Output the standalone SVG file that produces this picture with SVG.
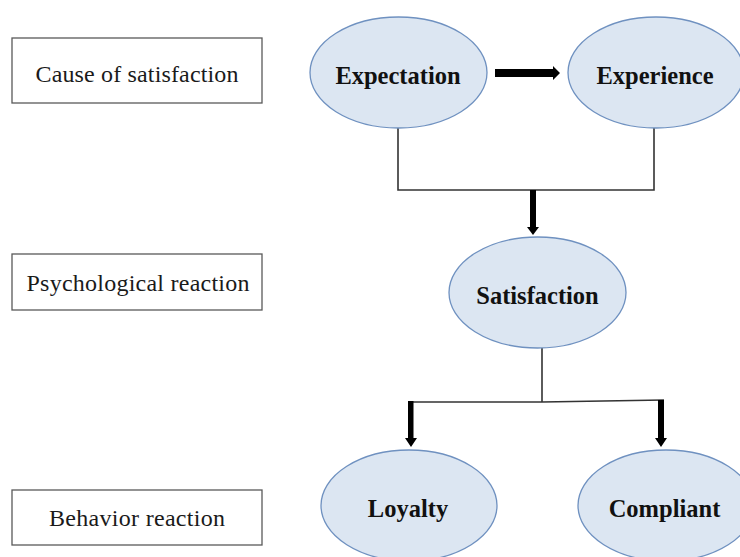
<svg xmlns="http://www.w3.org/2000/svg" width="740" height="557" viewBox="0 0 740 557">
  <style>
    .label-box { fill: #ffffff; stroke: #595959; stroke-width: 1.3; }
    .label-text { font-family: "Liberation Serif", "Times New Roman", serif; font-size: 24px; fill: #1a1a1a; text-anchor: middle; }
    .node-shape { fill: #dce6f2; stroke: #6f91c0; stroke-width: 1.3; }
    .node-text { font-family: "Liberation Serif", "Times New Roman", serif; font-size: 24.5px; font-weight: bold; fill: #111111; text-anchor: middle; }
    .thin { fill: none; stroke: #333333; stroke-width: 1.6; }
    .thick { fill: #000000; stroke: none; }
  </style>

  <rect width="740" height="557" fill="#ffffff"/>

  <!-- stage labels -->
  <g id="label-cause">
    <rect class="label-box" x="12" y="38" width="250" height="65"/>
    <text class="label-text" x="137" y="82" textLength="203" lengthAdjust="spacing">Cause of satisfaction</text>
  </g>
  <g id="label-psychological">
    <rect class="label-box" x="12" y="254" width="250" height="56"/>
    <text class="label-text" x="138" y="291" textLength="223" lengthAdjust="spacing">Psychological reaction</text>
  </g>
  <g id="label-behavior">
    <rect class="label-box" x="12" y="490" width="250" height="55"/>
    <text class="label-text" x="137" y="526" textLength="176" lengthAdjust="spacing">Behavior reaction</text>
  </g>

  <!-- connectors -->
  <g id="connectors">
    <!-- expectation to experience -->
    <polygon class="thick" points="495,69 553,69 553,66 560,73 553,80 553,77 495,77"/>
    <!-- merge of expectation and experience into satisfaction -->
    <polyline class="thin" points="398,128 398,190 654,190 654,128"/>
    <polygon class="thick" points="530,190 536,190 536,227 539,227 533,235 527,227 530,227"/>
    <!-- split of satisfaction into loyalty and compliant -->
    <line class="thin" x1="542" y1="348" x2="542" y2="402"/>
    <polyline class="thin" points="408,402 542,402 664,400"/>
    <polygon class="thick" points="408,401 413.5,401 413.5,438 417,438 411,447 405,438 408,438"/>
    <polygon class="thick" points="658,400 664,400 664,438 667,438 661,447 655,438 658,438"/>
  </g>

  <!-- nodes -->
  <g id="node-expectation">
    <ellipse class="node-shape" cx="398.5" cy="72.5" rx="88.5" ry="55.5"/>
    <text class="node-text" x="398" y="84">Expectation</text>
  </g>
  <g id="node-experience">
    <ellipse class="node-shape" cx="656" cy="72.5" rx="88" ry="55.5"/>
    <text class="node-text" x="655" y="84">Experience</text>
  </g>
  <g id="node-satisfaction">
    <ellipse class="node-shape" cx="537.5" cy="292.5" rx="88.5" ry="55.5"/>
    <text class="node-text" x="537.5" y="304">Satisfaction</text>
  </g>
  <g id="node-loyalty">
    <ellipse class="node-shape" cx="409" cy="505.5" rx="88" ry="55.5"/>
    <text class="node-text" x="408" y="517">Loyalty</text>
  </g>
  <g id="node-compliant">
    <ellipse class="node-shape" cx="666" cy="505.5" rx="88" ry="55.5"/>
    <text class="node-text" x="664.5" y="517">Compliant</text>
  </g>
</svg>
